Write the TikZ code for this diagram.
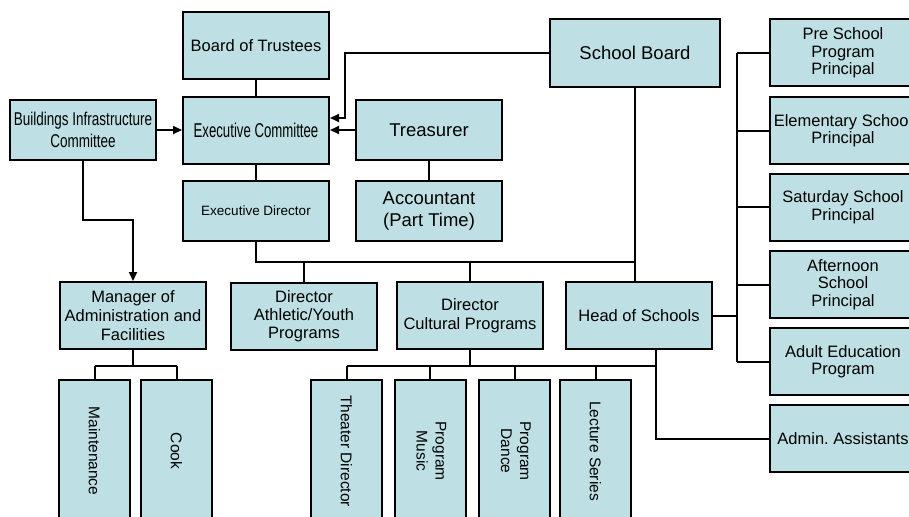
\documentclass[tikz,border=0pt]{standalone}
\usepackage{fontspec}
\setmainfont{Liberation Sans}
\usepackage{tikz}
\usetikzlibrary{calc}
\usetikzlibrary{arrows.meta}
\definecolor{orgfill}{RGB}{190,224,228}

\begin{document}
\begin{tikzpicture}[x=1pt,y=-1pt,
		orgbox/.style={draw=black, fill=orgfill, line width=2pt, inner sep=0pt, align=center, minimum width=146pt, minimum height=67pt, font=\fontsize{16.5}{17.5}\selectfont},
		tallbox/.style={orgbox, minimum width=71pt, minimum height=142pt, font=\fontsize{15.5}{19}\selectfont},
		link/.style={line width=2pt},
		arrowlink/.style={link, -{Triangle[length=9pt,width=8pt]}}]
			\useasboundingbox (0,0) rectangle (909,516);
			\clip (0,0) rectangle (909,516);
			% top block
			\node at (256,45.5) (board) [orgbox] {Board of Trustees} ;
			\node at (256,130.5) (exec) [orgbox, font=\fontsize{20}{22}\selectfont] {\scalebox{0.66}[1]{Executive Committee}} ;
			\node at (256,211) (execdir) [orgbox, minimum height=60pt, font=\fontsize{13.5}{15}\selectfont] {Executive Director} ;
			\node at (83,130) (bic) [orgbox, minimum height=60pt, font=\fontsize{18.5}{22}\selectfont] {\scalebox{0.73}[1]{Buildings Infrastructure}\\\scalebox{0.73}[1]{Committee}} ;
			\node at (429,130) (treas) [orgbox, minimum height=60pt, font=\fontsize{18.5}{22}\selectfont] {Treasurer} ;
			\node at (429,211) (acct) [orgbox, minimum height=60pt, font=\fontsize{18.5}{22}\selectfont] {Accountant\\(Part Time)} ;
			\node at (635,53) (schoolbd) [orgbox, minimum width=170pt, minimum height=68pt, font=\fontsize{18.5}{22}\selectfont] {School Board} ;
			% middle row
			\node at (133,315.5) (mgr) [orgbox, font=\fontsize{16.5}{19}\selectfont] {Manager of\\Administration and\\Facilities} ;
			\node at (304,316) (athl) [orgbox, font=\fontsize{16.5}{18}\selectfont] {Director\\Athletic/Youth\\Programs} ;
			\node at (470,315.5) (cult) [orgbox, font=\fontsize{16.5}{19}\selectfont] {Director\\Cultural Programs} ;
			\node at (639,315.5) (head) [orgbox] {Head of Schools} ;
			% schools column
			\node at (843,53) (pre) [orgbox] {Pre School\\Program\\Principal} ;
			\node at (843,130.5) (elem) [orgbox] {Elementary School\\Principal} ;
			\node at (843,207) (sat) [orgbox] {Saturday School\\Principal} ;
			\node at (843,284.5) (aft) [orgbox] {Afternoon\\School\\Principal} ;
			\node at (843,361.5) (adult) [orgbox] {Adult Education\\Program} ;
			\node at (843,438.5) (admin) [orgbox] {Admin.\ Assistants} ;
			% bottom row
			\node at (94.5,451) (maint) [tallbox] {\rotatebox{-90}{Maintenance}} ;
			\node at (176.5,451) (cook) [tallbox] {\rotatebox{-90}{Cook}} ;
			\node at (346.5,451) (theater) [tallbox] {\rotatebox{-90}{Theater Director}} ;
			\node at (430,451) (music) [tallbox] {\rotatebox{-90}{\begin{tabular}{@{}c@{}}Program\\Music\end{tabular}}} ;
			\node at (514.5,451) (dance) [tallbox] {\rotatebox{-90}{\begin{tabular}{@{}c@{}}Program\\Dance\end{tabular}}} ;
			\node at (595.5,451) (lecture) [tallbox] {\rotatebox{-90}{Lecture Series}} ;
			% connectors
			\draw[link] (board.south) -- (exec.north); \draw[link] (exec.south) -- (execdir.north); \draw[link] (treas.south) -- (acct.north);
			\draw[arrowlink] (bic.east) -- (bic.east -| exec.west);
			\draw[arrowlink] (treas.west) -- (treas.west -| exec.east);
			\coordinate (sbturn) at (345,118);
			\draw[arrowlink] (schoolbd.west) -| (sbturn) -- (sbturn -| exec.east);
			\coordinate (mgrturn) at (83,220);
			\draw[arrowlink] (bic.south) -- (mgrturn) -| (mgr.north);
			\coordinate (topbus) at (256,262);
			\draw[link] (execdir.south) -- (topbus) -- (topbus -| schoolbd.south);
			\draw[link] (schoolbd.south) -- (schoolbd.south |- head.north);
			\draw[link] (topbus -| athl.north) -- (athl.north); \draw[link] (topbus -| cult.north) -- (cult.north);
			\coordinate (rbus) at (737,0);
			\draw[link] (head.east) -- (head.east -| rbus);
			\draw[link] (pre.west -| rbus) -- (adult.west -| rbus);
			\foreach \school in {pre,elem,sat,aft,adult} \draw[link] (\school.west -| rbus) -- (\school.west);
			\coordinate (hdrop) at ($(head.south)+(17,0)$);
			\draw[link] (hdrop) |- (admin.west);
			\coordinate (lowbus) at (0,366);
			\draw[link] (mgr.south) -- (mgr.south |- lowbus); \draw[link] (maint.north |- lowbus) -- (cook.north |- lowbus);
			\draw[link] (cult.south) -- (cult.south |- lowbus); \draw[link] (theater.north |- lowbus) -- (hdrop |- lowbus);
			\foreach \unit in {maint,cook,theater,music,dance,lecture} \draw[link] (\unit.north |- lowbus) -- (\unit.north);
			\end{tikzpicture}
\end{document}
